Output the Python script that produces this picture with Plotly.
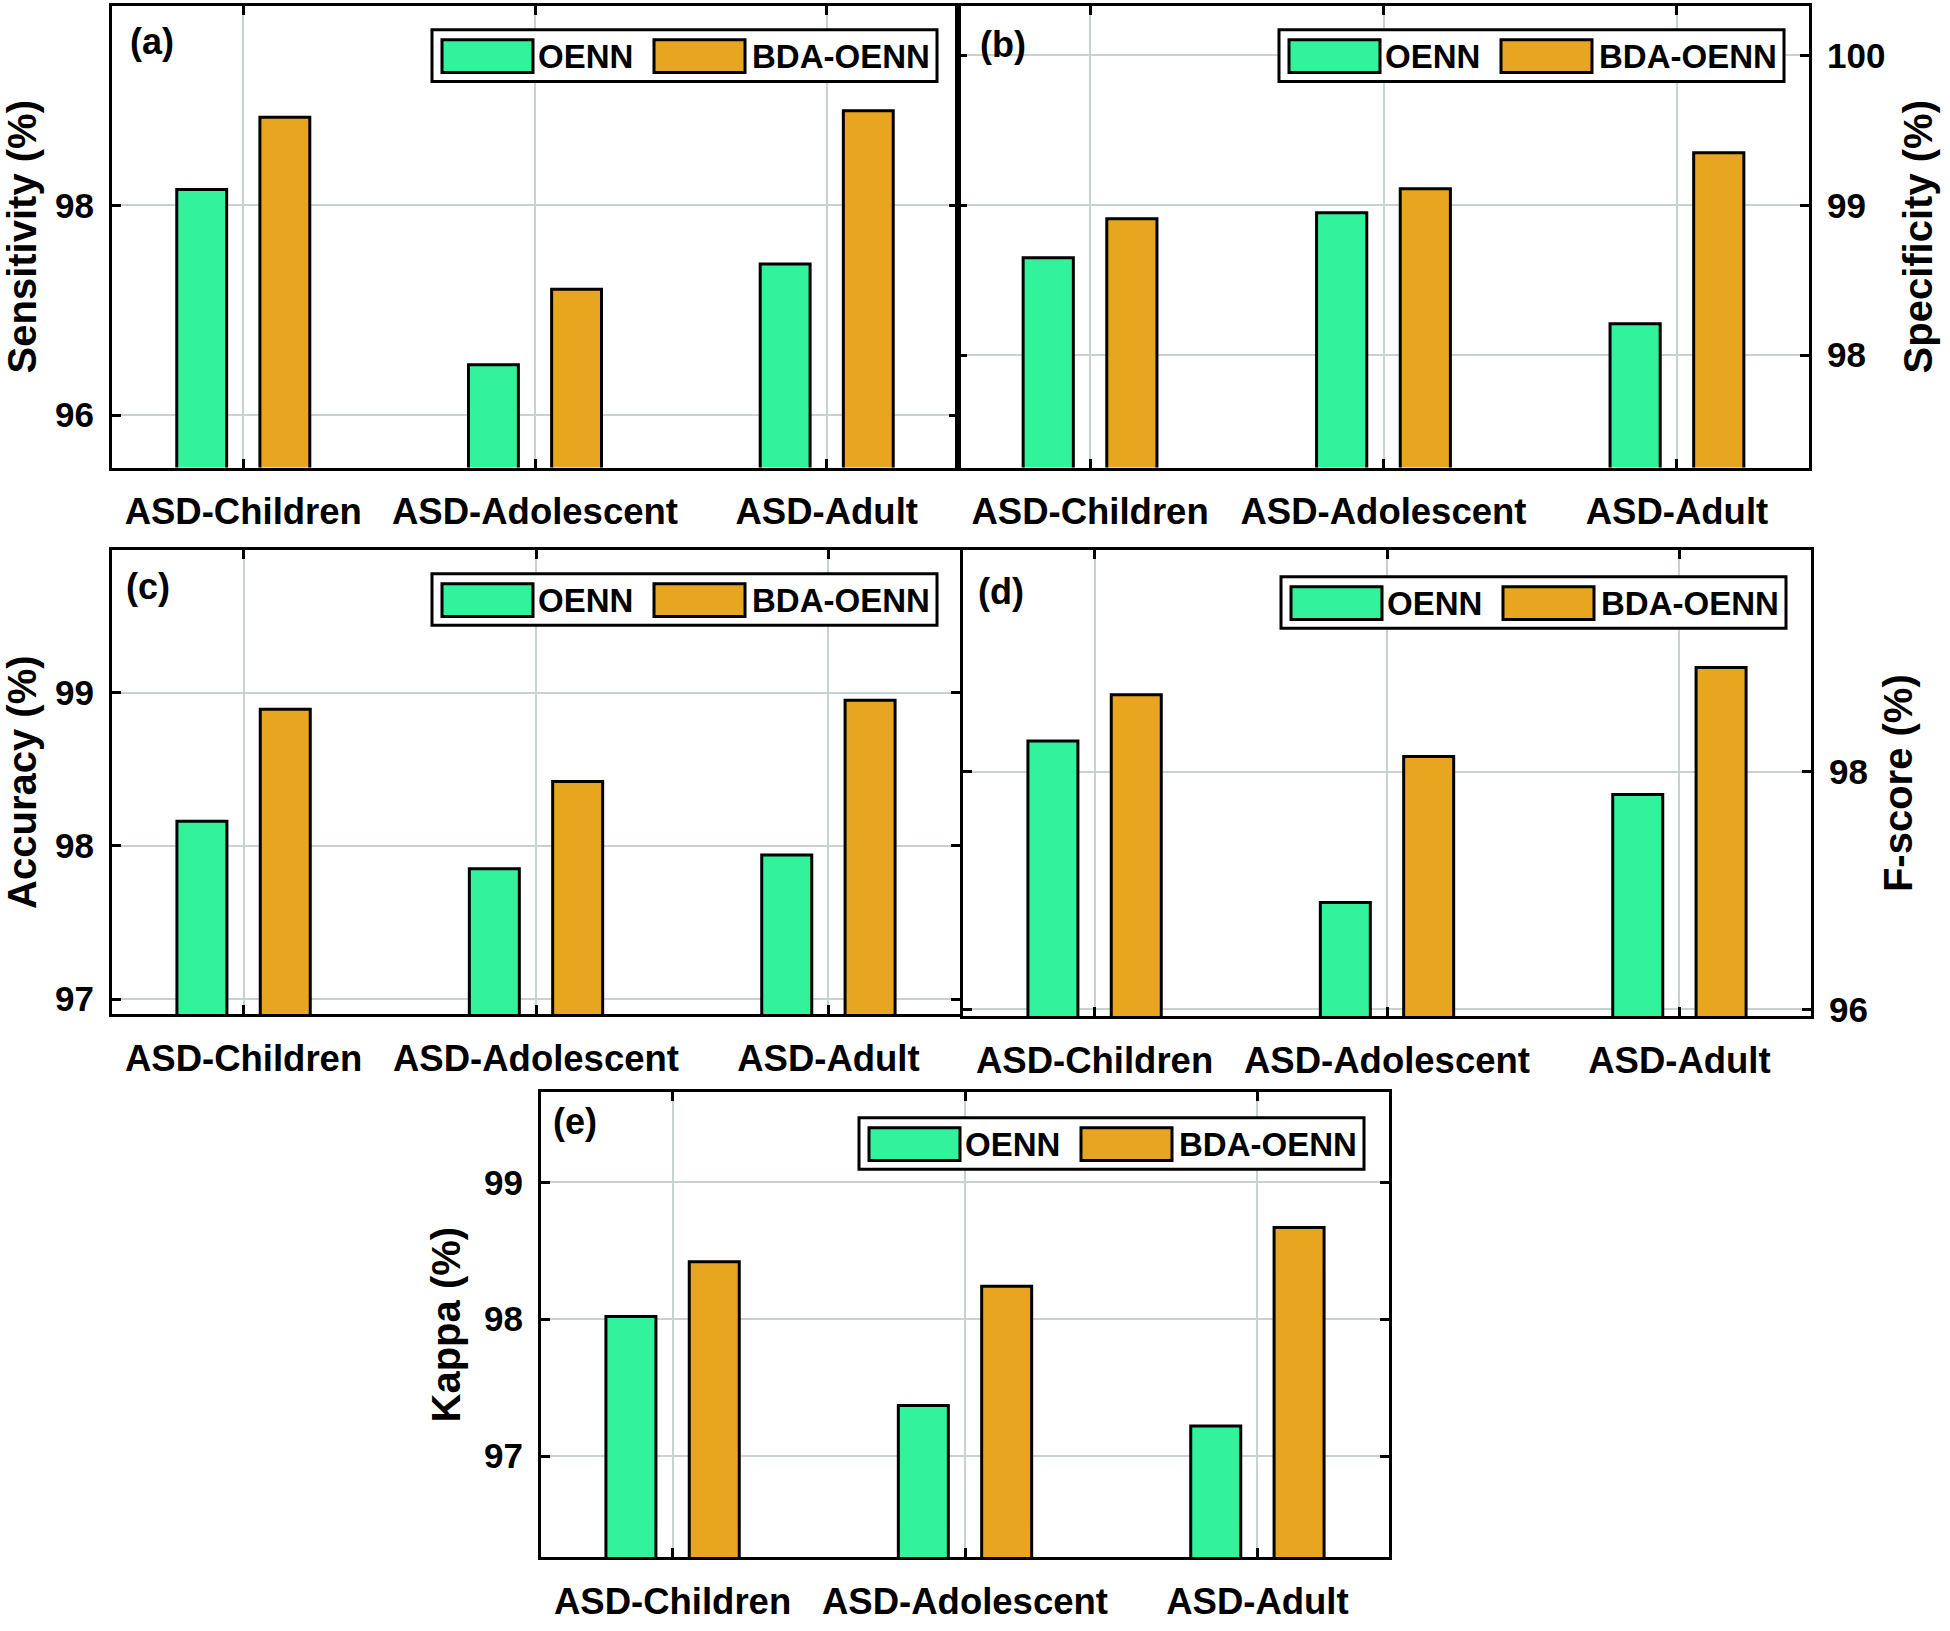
import plotly.graph_objects as go

categories = ["ASD-Children", "ASD-Adolescent", "ASD-Adult"]
series_names = ["OENN", "BDA-OENN"]

sens_oenn = [98.15, 96.48, 97.44]
sens_bda = [98.84, 97.20, 98.90]
spec_oenn = [98.65, 98.95, 98.21]
spec_bda = [98.91, 99.11, 99.35]
acc_oenn = [98.16, 97.85, 97.94]
acc_bda = [98.89, 98.42, 98.95]
fscore_oenn = [98.26, 96.90, 97.81]
fscore_bda = [98.65, 98.13, 98.88]
kappa_oenn = [98.02, 97.37, 97.22]
kappa_bda = [98.42, 98.24, 98.67]

panel_labels = ["(a)", "(b)", "(c)", "(d)", "(e)"]
axis_titles = ["Sensitivity (%)", "Specificity (%)", "Accuracy (%)", "F-score (%)", "Kappa (%)"]

W, H = 1950, 1631
GREEN = "#33F29C"
ORANGE = "#E8A520"
GRID = "#C8D2D0"
FONT = "Liberation Sans, Arial, sans-serif"
colors = [GREEN, ORANGE]

# panel pixel boxes: (left, right, top, bottom)
boxes = [
    (112, 958, 6, 471),
    (958, 1809, 6, 471),
    (112, 960, 554, 1022),
    (963, 1811, 554, 1024),
    (541, 1389, 1100, 1569),
]
yranges = [[95.5, 99.9], [97.25, 100.33], [96.9, 99.93], [95.94, 99.87], [96.26, 99.66]]
dticks = [2, 1, 1, 2, 1]
sides = ["left", "right", "left", "right", "left"]
standoffs = [12, 20, 12, 18, 12]
# legend boxes: (left, top)
legend_pos = [(432, 30), (1279, 30), (432, 578), (1281, 581), (859, 1126)]
label_pos = [(152, 42), (1003, 45), (148, 591), (1001, 596), (575, 1130)]

data_pairs = [
    (sens_oenn, sens_bda),
    (spec_oenn, spec_bda),
    (acc_oenn, acc_bda),
    (fscore_oenn, fscore_bda),
    (kappa_oenn, kappa_bda),
]

fig = go.Figure()
layout = {}
annotations = []
shapes = []


def px(x):
    return x / W


def py(y):
    return 1 - y / H


for i, (vals_o, vals_b) in enumerate(data_pairs):
    n = "" if i == 0 else str(i + 1)
    for name, vals, col in [(series_names[0], vals_o, GREEN), (series_names[1], vals_b, ORANGE)]:
        fig.add_trace(go.Bar(
            x=categories, y=vals, name=name,
            marker=dict(color=col, line=dict(color="black", width=3)),
            xaxis="x" + n, yaxis="y" + n, showlegend=False,
        ))
    l, r, t, b = boxes[i]
    layout["xaxis" + n] = dict(
        domain=[px(l), px(r)], anchor="y" + n,
        type="category", range=[-0.45, 2.45],
        showline=True, linecolor="black", linewidth=3, mirror="ticks",
        ticks="inside", ticklen=9, tickwidth=3, tickcolor="black",
        showgrid=True, gridcolor=GRID, gridwidth=2,
        tickfont=dict(family=FONT, size=36.5, color="black", weight="bold"),
        ticklabelstandoff=10,
    )
    layout["yaxis" + n] = dict(
        domain=[py(b), py(t)], anchor="x" + n,
        range=yranges[i], dtick=dticks[i], tick0=0, side=sides[i],
        showline=True, linecolor="black", linewidth=3, mirror="ticks",
        ticks="inside", ticklen=9, tickwidth=3, tickcolor="black",
        showgrid=True, gridcolor=GRID, gridwidth=2, zeroline=False,
        tickfont=dict(family=FONT, size=35, color="black", weight="bold"),
        ticklabelstandoff=8,
        title=dict(text=axis_titles[i], standoff=standoffs[i],
                   font=dict(family=FONT, size=40, color="black", weight="bold")),
    )
    # legend box drawn in paper space
    lx, ly = legend_pos[i]
    shapes.append(dict(type="rect", xref="paper", yref="paper",
                       x0=px(lx), x1=px(lx + 505), y0=py(ly + 52), y1=py(ly),
                       line=dict(color="black", width=3), fillcolor="white", layer="above"))
    swatch_x = [(lx + 10, lx + 101), (lx + 222, lx + 313)]
    text_x = [lx + 104, lx + 318]
    for k in range(2):
        sx0, sx1 = swatch_x[k]
        shapes.append(dict(type="rect", xref="paper", yref="paper",
                           x0=px(sx0), x1=px(sx1), y0=py(ly + 43), y1=py(ly + 10),
                           line=dict(color="black", width=3), fillcolor=colors[k], layer="above"))
        annotations.append(dict(
            text=series_names[k], x=px(text_x[k]), y=py(ly + 27), xref="paper", yref="paper",
            xanchor="left", yanchor="middle", showarrow=False,
            font=dict(family=FONT, size=33, color="black", weight="bold"),
        ))
    lbx, lby = label_pos[i]
    annotations.append(dict(
        text=panel_labels[i], x=px(lbx), y=py(lby), xref="paper", yref="paper",
        xanchor="center", yanchor="middle", showarrow=False,
        font=dict(family=FONT, size=36, color="black", weight="bold"),
    ))

fig.update_layout(
    width=W, height=H,
    margin=dict(l=0, r=0, t=0, b=0),
    paper_bgcolor="white", plot_bgcolor="white",
    barmode="group", bargap=0.43, bargroupgap=0.4,
    font=dict(family=FONT, color="black", weight="bold"),
    annotations=annotations,
    shapes=shapes,
    **layout,
)

fig.write_html("out.html", config={"displayModeBar": False},
               post_script="document.body.style.margin='0px';")
